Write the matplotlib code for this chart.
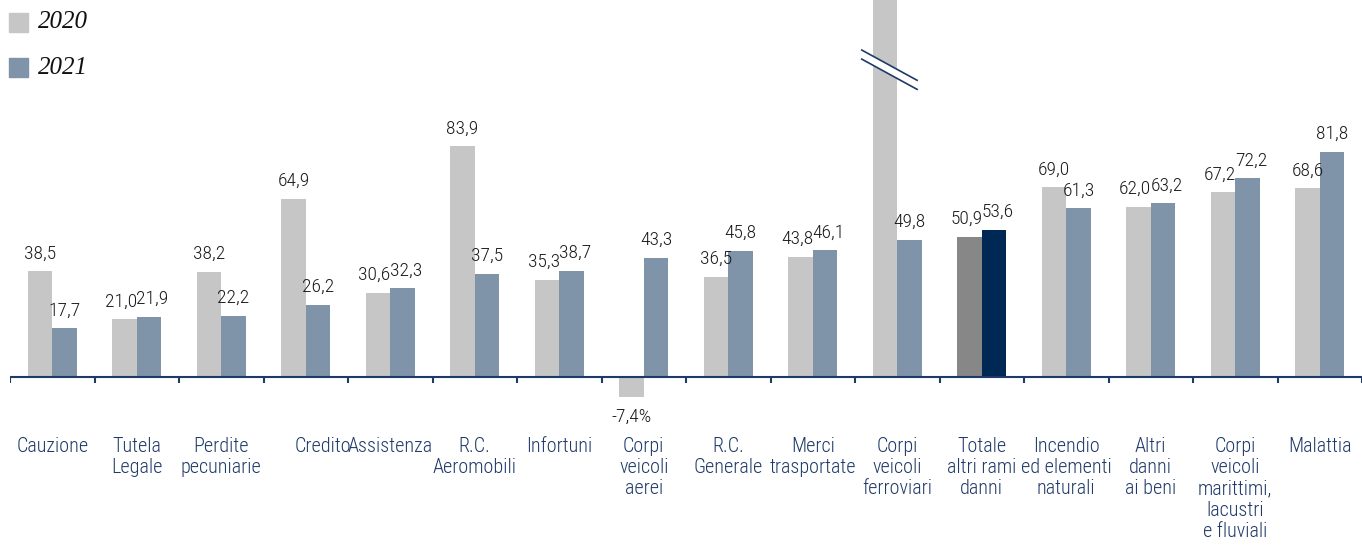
import matplotlib.pyplot as plt
from matplotlib.patches import Rectangle, Polygon

# Data (values in %)
categories = ['Cauzione', 'Tutela\nLegale', 'Perdite\npecuniarie', 'Credito', 'Assistenza',
              'R.C.\nAeromobili', 'Infortuni', 'Corpi\nveicoli\naerei', 'R.C.\nGenerale',
              'Merci\ntrasportate', 'Corpi\nveicoli\nferroviari', 'Totale\naltri rami\ndanni',
              'Incendio\ned elementi\nnaturali', 'Altri\ndanni\nai beni',
              'Corpi\nveicoli\nmarittimi,\nlacustri\ne fluviali', 'Malattia']
values_2020 = [38.5, 21.0, 38.2, 64.9, 30.6, 83.9, 35.3, -7.4, 36.5, 43.8, 160.0, 50.9, 69.0, 62.0, 67.2, 68.6]
values_2021 = [17.7, 21.9, 22.2, 26.2, 32.3, 37.5, 38.7, 43.3, 45.8, 46.1, 49.8, 53.6, 61.3, 63.2, 72.2, 81.8]
labels_2020 = ['38,5', '21,0', '38,2', '64,9', '30,6', '83,9', '35,3', '-7,4%', '36,5', '43,8', '', '50,9',
               '69,0', '62,0', '67,2', '68,6']
labels_2021 = ['17,7', '21,9', '22,2', '26,2', '32,3', '37,5', '38,7', '43,3', '45,8', '46,1', '49,8', '53,6',
               '61,3', '63,2', '72,2', '81,8']
broken_idx = 10   # bar that runs off the top of the chart
total_idx = 11    # highlighted "Totale" bars

c20 = '#c6c6c6'
c21 = '#7f93a9'
c20_tot = '#878787'
c21_tot = '#002855'
navy = '#1f3a68'

narrow = ['Roboto Condensed', 'DejaVu Sans']
serif = ['Liberation Serif', 'DejaVu Serif']

fig = plt.figure(figsize=(13.62, 5.45), dpi=100)
ax = fig.add_axes([10 / 1362, 0, 1352 / 1362, 1])
ax.set_xlim(0, 16)
ax.set_ylim(-61.1, 137.1)
ax.axis('off')

w = 0.29
for i in range(len(categories)):
    x = i + 0.5
    col_a = c20_tot if i == total_idx else c20
    col_b = c21_tot if i == total_idx else c21
    ax.bar(x - w / 2, values_2020[i], width=w, color=col_a, zorder=2)
    ax.bar(x + w / 2, values_2021[i], width=w, color=col_b, zorder=2)

    # value labels, nudged apart a little when both bars are about the same height
    nudge = 0.04 if abs(values_2020[i] - values_2021[i]) < 6 else 0
    v = values_2020[i]
    if labels_2020[i]:
        if v >= 0:
            ax.text(x - w / 2 - nudge, v + 3.2, labels_2020[i], ha='center', va='bottom',
                    fontsize=14, family=narrow, weight='light', color='#1a1a1a')
        else:
            ax.text(x - w / 2, v - 3.8, labels_2020[i], ha='center', va='top',
                    fontsize=14, family=narrow, weight='light', color='#1a1a1a')
    ax.text(x + w / 2 + nudge, values_2021[i] + 3.2, labels_2021[i], ha='center', va='bottom',
            fontsize=14, family=narrow, weight='light', color='#1a1a1a')

    # category labels
    dx = 0.2 if categories[i] == 'Credito' else 0
    ax.text(x + dx, -21.8, categories[i], ha='center', va='top', fontsize=14.5,
            family=narrow, weight='light', color=navy, linespacing=1.15)

# axis line and separator ticks
ax.axhline(0, color=navy, lw=1.5, zorder=3)
ax.vlines(range(0, 17), -2.3, 0, color=navy, lw=1.5, zorder=3)

# break marks on the off-scale bar
bx = broken_idx + 0.5 - w / 2
x0, x1 = bx - 0.275, bx + 0.38
slope = -11.0 / (x1 - x0)
ya, yb = 118.9, 115.6
ax.add_patch(Polygon([(x0, ya), (x1, ya + slope * (x1 - x0)),
                      (x1, yb + slope * (x1 - x0)), (x0, yb)],
                     closed=True, facecolor='white', edgecolor='none', zorder=4))
ax.plot([x0, x1], [ya, ya + slope * (x1 - x0)], color=navy, lw=1.2, zorder=5)
ax.plot([x0, x1], [yb, yb + slope * (x1 - x0)], color=navy, lw=1.2, zorder=5)

# legend
fig.patches.append(Rectangle((9 / 1362, 1 - 32 / 545), 19 / 1362, 19 / 545,
                             transform=fig.transFigure, color=c20))
fig.patches.append(Rectangle((9 / 1362, 1 - 77 / 545), 19 / 1362, 19 / 545,
                             transform=fig.transFigure, color=c21))
fig.text(38 / 1362, 1 - 22 / 545, '2020', fontsize=18, style='italic',
         family=serif, va='center', color='#111111')
fig.text(38 / 1362, 1 - 68 / 545, '2021', fontsize=18, style='italic',
         family=serif, va='center', color='#111111')

fig.savefig('out.png', dpi=100)
